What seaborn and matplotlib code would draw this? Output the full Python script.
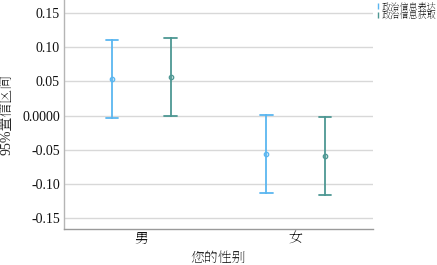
import pandas as pd
import matplotlib
matplotlib.use('Agg')
import matplotlib.pyplot as plt
from matplotlib.lines import Line2D
import seaborn as sns

# values (mean and 95% CI bounds)
genders = ['男', '女']
series = ['政治信息表达', '政治信息获取']
mean_expr = [0.053, -0.056]
low_expr = [-0.003, -0.113]
high_expr = [0.110, 0.001]
mean_acq = [0.056, -0.059]
low_acq = [0.000, -0.116]
high_acq = [0.113, -0.002]
yticks = [0.15, 0.10, 0.05, 0.0, -0.05, -0.10, -0.15]
ytick_labels = ['0.15', '0.10', '0.05', '0.0000', '-0.05', '-0.10', '-0.15']
colors = ['#5ab6f0', '#4d9793']

sns.set_theme(style='white')
plt.rcParams['font.family'] = ['Liberation Serif', 'Noto Serif SC', 'Noto Sans CJK SC', 'DejaVu Sans']

# long table: low / mean / high per group, the median is the point, min-max is the bar
rows = []
for s, m, lo, hi in [(series[0], mean_expr, low_expr, high_expr),
                     (series[1], mean_acq, low_acq, high_acq)]:
    for i, g in enumerate(genders):
        for v in (lo[i], m[i], hi[i]):
            rows.append({'gender': g, 'series': s, 'value': v})
df = pd.DataFrame(rows)

fig = plt.figure(figsize=(4.37, 2.65), dpi=100)
ax = fig.add_axes([0.1465, 0.136, 0.707, 0.864])

sns.pointplot(data=df, x='gender', y='value', hue='series', order=genders, hue_order=series,
              palette=colors, estimator='median', errorbar=lambda x: (x.min(), x.max()),
              dodge=0.38, linestyle='none', markers='o', capsize=0.08,
              err_kws={'linewidth': 1.3}, markersize=3.2, ax=ax, legend=False)

for ln in ax.lines:
    if ln.get_marker() == 'o':
        c = ln.get_color()
        ln.set_markerfacecolor(matplotlib.colors.to_rgba(c, 0.3))
        ln.set_markeredgecolor(c)
        ln.set_markeredgewidth(0.9)

ax.set_ylim(-0.166, 0.169)
ax.set_xlim(-0.5, 1.5)
ax.set_yticks(yticks)
ax.set_yticklabels(ytick_labels)
ax.yaxis.grid(True, color='#d8d8d8', linewidth=1.0)
ax.set_axisbelow(True)
ax.tick_params(axis='both', length=0, labelsize=10, pad=3, colors='#111111')
for sp in ['top', 'right']:
    ax.spines[sp].set_visible(False)
ax.spines['left'].set_color('#b5b5b5')
ax.spines['bottom'].set_color('#9a9a9a')
ax.spines['left'].set_linewidth(1.0)
ax.spines['bottom'].set_linewidth(1.0)

ax.set_xlabel('您的性别', fontsize=10, labelpad=4)
ax.set_ylabel('95%置信区间', fontsize=10, labelpad=6)

handles = [Line2D([], [], color=c, marker=r'$\mathrm{I}$', linestyle='none', markersize=4.5)
           for c in colors]
fig.legend(handles, series, loc='upper left', bbox_to_anchor=(0.856, 1.0), frameon=False,
           fontsize=6.6, handlelength=0.4, handletextpad=0.25, borderaxespad=0.1,
           labelspacing=0.0, borderpad=0.1)

fig.savefig('out.png', dpi=100)
